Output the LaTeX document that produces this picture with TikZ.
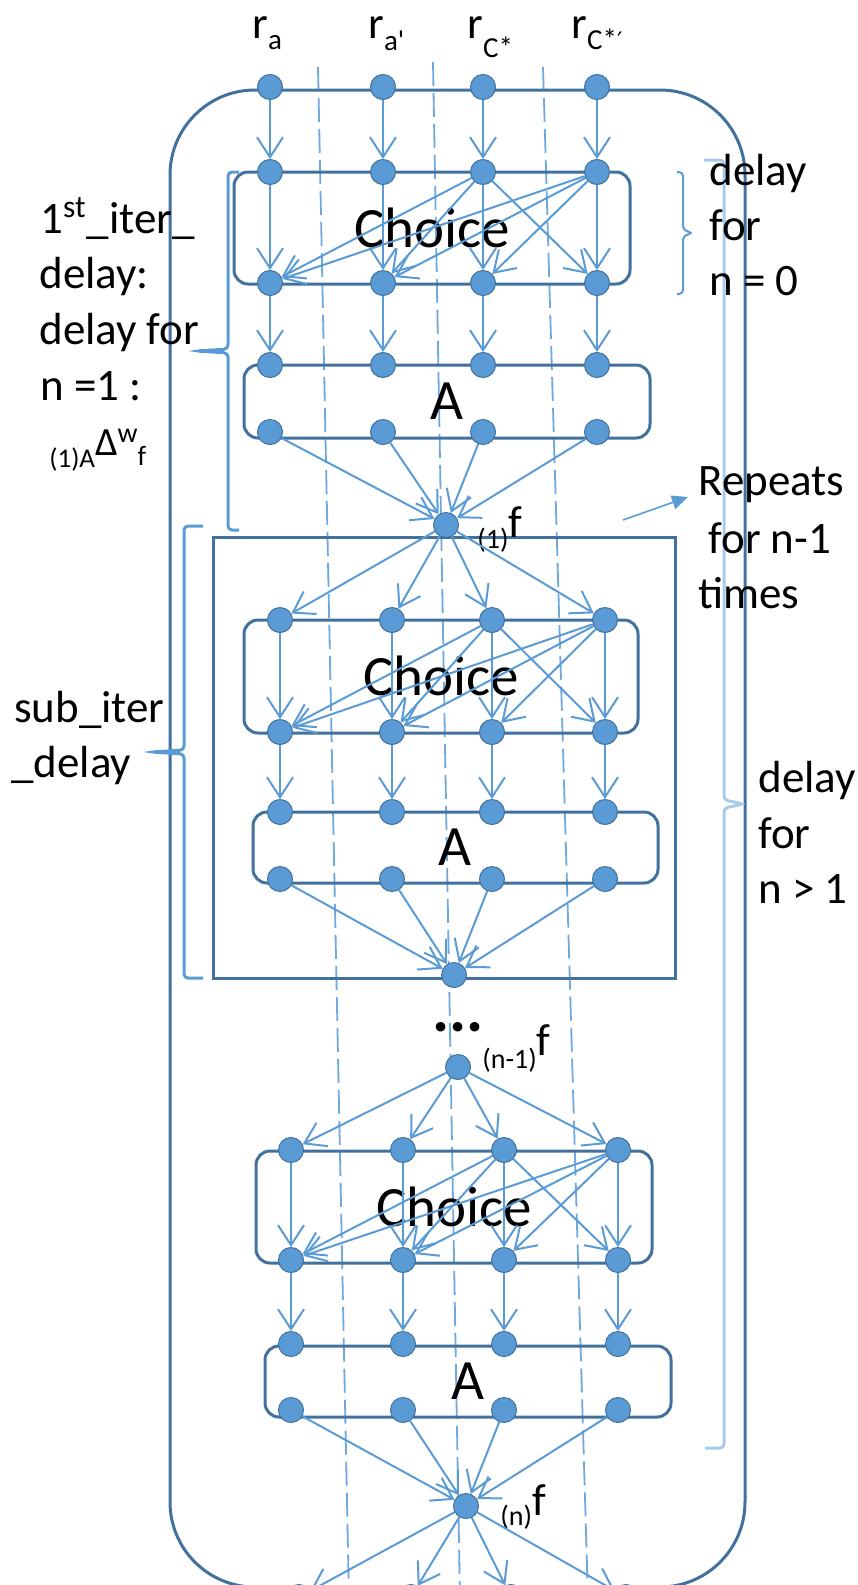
\documentclass[tikz,border=0pt]{standalone}
\usepackage{fontspec}
\setmainfont{Carlito}
\newfontfamily\symfont{DejaVu Sans}
\usetikzlibrary{arrows.meta}

\definecolor{boxblue}{HTML}{41719C}
\definecolor{nodeblue}{HTML}{5B9BD5}
\definecolor{paleblue}{HTML}{A9CBEB}
\definecolor{guideblue}{HTML}{6FA8DC}

\newcommand\bodysz{\fontsize{22.5pt}{27pt}\selectfont}
\newcommand\subsz{\fontsize{14.5pt}{17pt}\selectfont}
\newcommand\lblsz{\fontsize{14pt}{17pt}\selectfont}

\tikzset{
  vert/.style={circle, fill=nodeblue, draw=boxblue, line width=0.5pt,
               inner sep=0pt, minimum size=12.5pt},
  flow/.style={draw=nodeblue, line width=1pt,
               -{Straight Barb[length=10pt,width=13pt]}},
  frame/.style={draw=boxblue, line width=1.5pt},
  blockbox/.style={draw=boxblue, line width=1.5pt, rounded corners=7pt},
  guide/.style={draw=guideblue, line width=0.9pt, dash pattern=on 12pt off 3.5pt},
  txt/.style={anchor=base west, inner sep=0pt, font=\bodysz},
  blocktitle/.style={inner sep=0pt, font=\fontsize{28.5pt}{34pt}\selectfont},
  bracemid/.style={draw=nodeblue, line width=1.5pt, rounded corners=2pt},
  bracethin/.style={draw=nodeblue, line width=1pt, rounded corners=2pt},
  bracepale/.style={draw=paleblue, line width=1.5pt, rounded corners=2pt},
}

\begin{document}
\begin{tikzpicture}[x=0.5pt,y=-0.5pt]
\useasboundingbox (0,0) rectangle (857,1585);
\clip (0,0) rectangle (857,1585);

% column guides
\draw[guide] (318,67) -- (349,1600);
\draw[guide] (433,62) -- (460,1600);
\draw[guide] (543,67) -- (588,1600);

% outer frame; its top edge carries the resource row
\draw[frame, rounded corners=42.5pt] (170,90) rectangle (745,1587);

% repeated iteration block
\draw[frame] (213,537) rectangle (675,978);

% choice and A blocks
\draw[blockbox] (234,172) rectangle (630,284);
\draw[blockbox] (244,365) rectangle (650,438);
\draw[blockbox] (244,620) rectangle (638,733);
\draw[blockbox] (253,812) rectangle (658,883);
\draw[blockbox] (256,1151) rectangle (652,1263);
\draw[blockbox] (265,1346) rectangle (671,1417);

\node[blocktitle] (ch1) at (432,228) {Choice};
\node[blocktitle] (ta1) at (447,401) {A};
\node[blocktitle] (ch2) at (441,676) {Choice};
\node[blocktitle] (ta2) at (455,847) {A};
\node[blocktitle] (ch3) at (454,1207) {Choice};
\node[blocktitle] (ta3) at (468,1381) {A};

% braces
\draw[bracemid] (239,172) -- (228,172) -- (228,349) -- (196,351) -- (228,353) -- (228,530) -- (239,530);
\draw[bracemid] (203,526) -- (184,526) -- (184,750) -- (151,752) -- (184,754) -- (184,978) -- (203,978);
\draw[bracethin] (677,172) -- (683,172) -- (683,230) -- (693,233) -- (683,236) -- (683,294) -- (677,294);
\draw[bracepale] (704,160) -- (724,160) -- (724,800) -- (744,804) -- (724,808) -- (724,1448) -- (705,1448);

% resource labels
\node[txt] (la) at (252,38) {r\raisebox{-5.5pt}{\subsz a}};
\node[txt] (lb) at (368,38) {r\raisebox{-6pt}{\subsz a\textquotesingle}};
\node[txt] (lc) at (467,38) {r\raisebox{-9.5pt}{\subsz C*}};
\node[txt] (ld) at (571,38) {r\raisebox{-5.5pt}{\subsz C*{\symfont\fontsize{12pt}{14pt}\selectfont ′}}};

% left annotations
\node[txt] (it1) at (40,233) {1\textsuperscript{st}\_iter\_};
\node[txt] (it2) at (39,288) {delay:};
\node[txt] (it3) at (39,344) {delay for};
\node[txt] (it4) at (40,400) {n =1 :};
\node[txt] (it5) at (49,455) {\raisebox{-6pt}{\fontsize{13.5pt}{16pt}\selectfont (1)A}{\fontsize{20pt}{24pt}\selectfont Δ}\raisebox{6.5pt}{\fontsize{14pt}{17pt}\selectfont w}\raisebox{-5pt}{\fontsize{14pt}{17pt}\selectfont f}};
\node[txt] (sb1) at (14,722) {sub\_iter};
\node[txt] (sb2) at (11,777) {\_delay};

% right annotations
\node[txt] (dz1) at (709,185) {delay};
\node[txt] (dz2) at (709,240) {for};
\node[txt] (dz3) at (709,295) {n = 0};
\node[txt] (rp1) at (698,495) {Repeats};
\node[txt] (rp2) at (698,553) {\ for n-1};
\node[txt] (rp3) at (698,608) {times};
\node[txt] (dm1) at (758,792) {delay};
\node[txt] (dm2) at (758,848) {for};
\node[txt] (dm3) at (758,903) {n > 1};

\coordinate (rpa) at (623,520);
\coordinate (rpb) at (688,497);
\draw[draw=nodeblue, line width=0.8pt, -{Triangle[length=8pt,width=7pt]}] (rpa) -- (rpb);

% resource row
\foreach \i/\x in {1/270,2/383,3/483,4/597}
  \node[vert] (r\i) at (\x,87) {};

% the three unrolled iterations
\foreach \s/\xa/\xb/\xc/\xd/\yc/\yd/\ya/\yb in
  {1/270/383/483/597/172/283/365/432,
   2/280/392/492/605/620/732/812/879,
   3/291/403/504/618/1150/1260/1344/1410}{
  \foreach \i/\x in {1/\xa,2/\xb,3/\xc,4/\xd}{
    \node[vert] (c\s\i) at (\x,\yc) {};
    \node[vert] (d\s\i) at (\x,\yd) {};
    \node[vert] (a\s\i) at (\x,\ya) {};
    \node[vert] (b\s\i) at (\x,\yb) {};
  }
}

% merge nodes
\node[vert] (f1) at (446,525) {};
\node[vert] (f2) at (454,975) {};
\node[vert] (f3) at (458,1067) {};
\node[vert] (f4) at (466,1506) {};
\foreach \i/\x in {1/299,2/411,3/511,4/626}
  \node[vert] (e\i) at (\x,1597) {};

\node[txt] (lf1) at (477,537) {\raisebox{-5.5pt}{\lblsz(1)}f};
\node[txt] (lf3) at (482,1055) {\raisebox{-6.5pt}{\lblsz(n-1)}f};
\node[txt] (lf4) at (500,1515) {\raisebox{-5pt}{\lblsz(n)}f};
\node[inner sep=0pt, font=\fontsize{32pt}{36pt}\selectfont\bfseries] (dots) at (458,1027) {...};

% connectors
\foreach \i in {1,...,4}
  \draw[flow] (r\i) -- (c1\i);
\foreach \s in {1,2,3}{
  \foreach \i in {1,...,4}{
    \draw[flow] (c\s\i) -- (d\s\i);
    \draw[flow] (d\s\i) -- (a\s\i);
  }
  \foreach \j in {1,2,4}
    \draw[flow] (c\s3) -- (d\s\j);
  \foreach \j in {1,2,3}
    \draw[flow] (c\s4) -- (d\s\j);
}
\foreach \i in {1,...,4}{
  \draw[flow] (b1\i) -- (f1);
  \draw[flow] (f1) -- (c2\i);
  \draw[flow] (b2\i) -- (f2);
  \draw[flow] (f3) -- (c3\i);
  \draw[flow] (b3\i) -- (f4);
  \draw[flow] (f4) -- (e\i);
}
\end{tikzpicture}
\end{document}
